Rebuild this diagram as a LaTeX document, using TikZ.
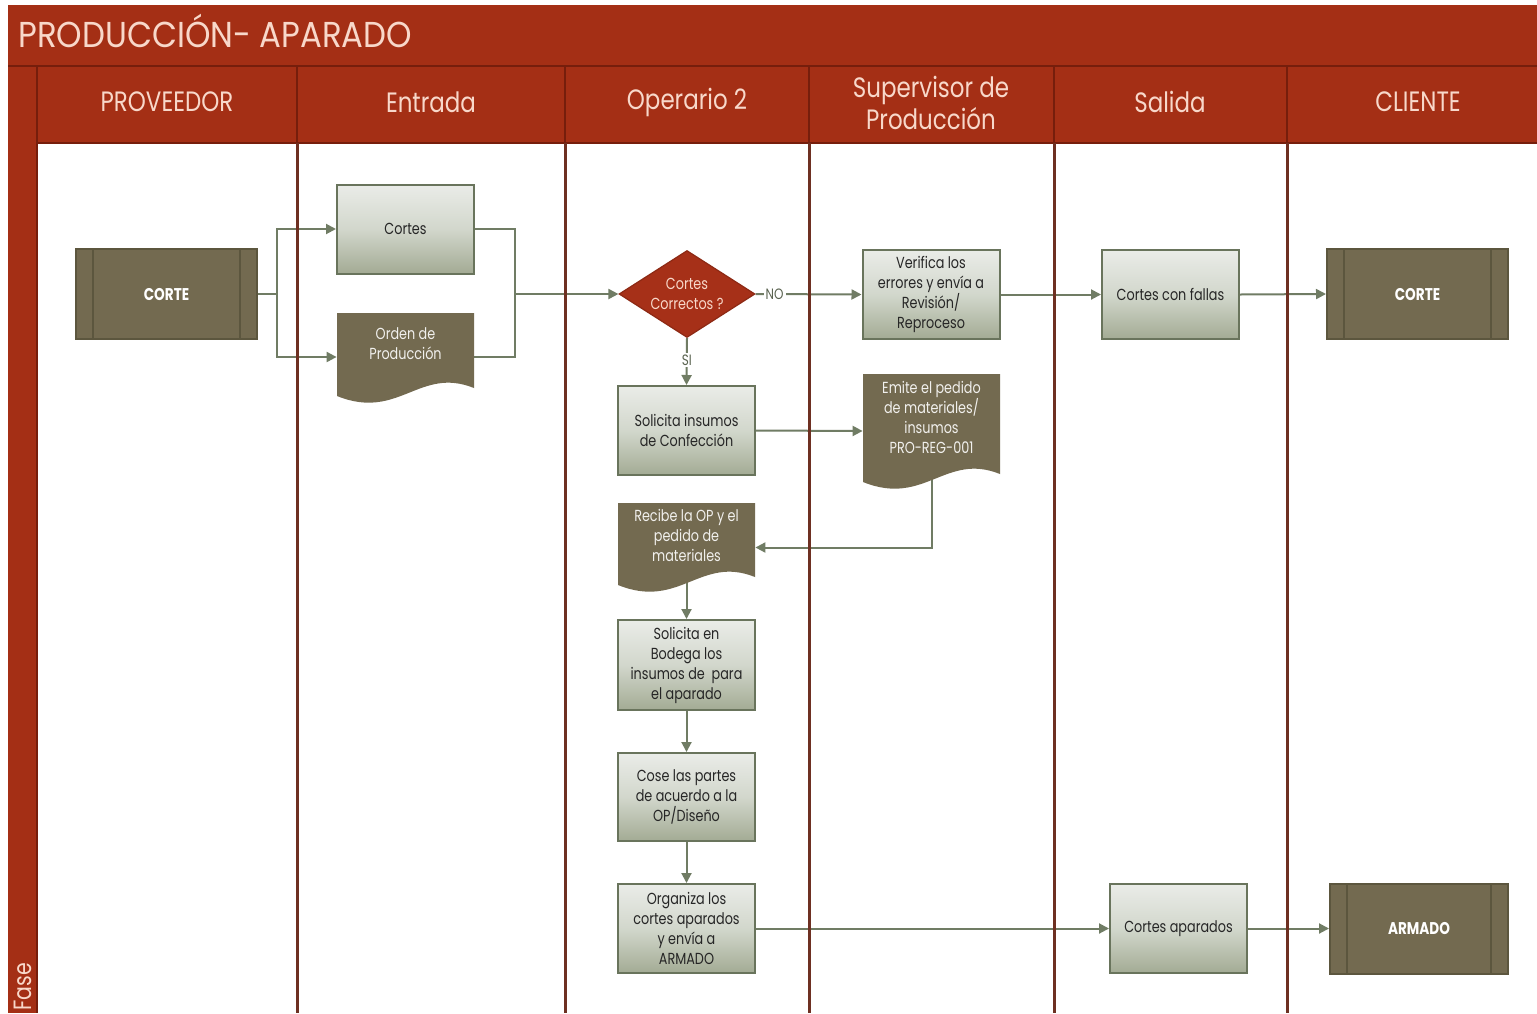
\documentclass[tikz,border=0pt]{standalone}
\usepackage{fontspec}
\setmainfont[FakeStretch=0.82]{Poppins}
\newfontfamily\boxfont[FakeStretch=0.80]{Poppins}
\newfontfamily\titlefont[FakeStretch=0.90]{Poppins}
\usetikzlibrary{arrows.meta,shapes.geometric}

\definecolor{barred}{RGB}{164,47,21}
\definecolor{barline}{RGB}{118,30,12}
\definecolor{laneline}{RGB}{110,48,34}
\definecolor{headtxt}{RGB}{248,216,202}
\definecolor{docfill}{RGB}{115,106,80}
\definecolor{docedge}{RGB}{92,86,62}
\definecolor{boxtop}{RGB}{234,236,232}
\definecolor{boxmid}{RGB}{210,215,204}
\definecolor{boxbot}{RGB}{163,171,148}
\definecolor{boxedge}{RGB}{105,116,92}
\definecolor{wire}{RGB}{112,124,100}
\definecolor{decfill}{RGB}{166,48,24}

\pgfdeclarelayer{back}
\pgfdeclarelayer{wires}
\pgfdeclarelayer{lanes}
\pgfsetlayers{back,wires,lanes,main}

% document symbol: flat top, wavy bottom edge
\newcommand\docwave[4]{%
  \fill[docfill] (#1,#3) -- (#2,#3) -- (#2,#4-8)
    .. controls ({#2-0.4*(#2-#1)},#4-30) and ({#1+0.45*(#2-#1)},#4+25) .. (#1,#4) -- cycle;}

\tikzset{
  proc/.style={rectangle, draw=boxedge, line width=1pt,
    top color=boxtop, bottom color=boxbot, middle color=boxmid,
    minimum width=68.5pt, minimum height=44.5pt, inner sep=1pt,
    align=center, font=\boxfont\fontsize{8}{10}\selectfont, text=black!85},
  predef/.style={rectangle, draw=docedge, fill=docfill, line width=1pt,
    minimum width=90.5pt, minimum height=45pt, text=white,
    font=\boxfont\bfseries\fontsize{8.5}{10}\selectfont,
    path picture={
      \draw[docedge, line width=1pt]
        ([xshift=8.5pt]path picture bounding box.north west) --
        ([xshift=8.5pt]path picture bounding box.south west)
        ([xshift=-8.5pt]path picture bounding box.north east) --
        ([xshift=-8.5pt]path picture bounding box.south east);}},
  docnode/.style={rectangle, minimum width=68.5pt, inner sep=0pt},
  doctext/.style={text=white!90!docfill, align=center,
    font=\boxfont\fontsize{8}{10}\selectfont},
  decision/.style={diamond, fill=decfill, draw=decfill!85!black, line width=0.6pt,
    minimum width=68pt, minimum height=43.5pt, aspect=1.56, inner sep=0pt,
    text=headtxt, align=center, font=\boxfont\fontsize{8}{10}\selectfont},
  flow/.style={draw=wire, line width=1pt, -{Triangle[length=5pt,width=5pt]}},
  link/.style={draw=wire, line width=1pt},
  lbl/.style={fill=white, inner sep=1pt, text=wire!80!black,
    font=\boxfont\fontsize{7.5}{9}\selectfont},
  headlbl/.style={text=headtxt, align=center, font=\fontsize{14}{14.5}\selectfont},
  lanerule/.style={draw=laneline, line width=1.5pt},
  headrule/.style={draw=barline, line width=1pt},
}

\begin{document}
\begin{tikzpicture}[x=0.5pt,y=-0.5pt]
\useasboundingbox (0,0) rectangle (1537,1013);

% ---- frame: title bar, header row, phase strip, body
\begin{pgfonlayer}{back}
  \fill[white] (0,0) rectangle (1537,1013);
  \fill[barred] (8,5) rectangle (1537,143);
  \fill[barred] (8,66) rectangle (37,1013);
  \draw[headrule] (8,66) -- (1537,66);
  \draw[headrule] (37,143) -- (1537,143);
  \draw[headrule] (37,66) -- (37,1013);
\end{pgfonlayer}

\node[anchor=base west, text=headtxt, inner sep=0pt,
  font=\titlefont\fontsize{18}{18}\selectfont] (title) at (18,47) {PRODUCCIÓN- APARADO};

\node[headlbl] (hprov) at (167,102) {PROVEEDOR};
\node[headlbl] (hent)  at (431,102) {Entrada};
\node[headlbl] (hop)   at (687,102) {Operario 2};
\node[headlbl] (hsup)  at (931,103) {Supervisor de\\Producción};
\node[headlbl] (hsal)  at (1170,102) {Salida};
\node[headlbl] (hcli)  at (1418,102) {CLIENTE};

\node[rotate=90, anchor=west, inner sep=1pt, text=headtxt,
  font=\fontsize{12.5}{13}\selectfont] (fase) at (23,1013) {Fase};

% ---- lane dividers
\begin{pgfonlayer}{lanes}
  \foreach \lx in {297,565,809,1054,1287}{
    \draw[headrule] (\lx,66) -- (\lx,143);
    \draw[lanerule] (\lx,143) -- (\lx,1013);
  }
\end{pgfonlayer}

% ---- process steps
\node[predef] (corteL) at (166.5,294) {CORTE};
\node[proc] (cortes) at (405.5,229) {Cortes};

\docwave{337}{474}{313}{396}
\node[docnode, minimum height=44pt] (orden) at (405.5,357) {};
\node[doctext] (ordentxt) at (405.5,344) {Orden de\\Producción};

\node[decision] (dec) at (687,294) {Cortes\\Correctos ?};

\node[proc] (verif) at (931,294.5) {Verifica los\\errores y envía a\\Revisión/\\Reproceso};
\node[proc] (fallas) at (1170.5,294.5) {Cortes con fallas};
\node[predef] (corteR) at (1417.5,294) {CORTE};

\node[proc] (solins) at (686.5,430.5) {Solicita insumos\\de Confección};

\docwave{863}{1000}{374}{482}
\node[docnode, minimum height=45pt] (emite) at (931.5,431) {};
\node[doctext] (emitetxt) at (931.5,417) {Emite el pedido\\de materiales/\\insumos\\PRO-REG-001};

\docwave{618}{755}{503}{585}
\node[docnode, minimum height=33pt] (recibe) at (686.5,547.5) {};
\node[doctext] (recibetxt) at (686.5,535) {Recibe la OP y el\\pedido de\\materiales};

\node[proc, minimum height=45pt] (bodega) at (686.5,665) {Solicita en\\Bodega los\\insumos de \ para\\el aparado};
\node[proc, minimum height=44pt] (cose) at (686.5,797) {Cose las partes\\de acuerdo a la\\OP/Diseño};
\node[proc] (organiza) at (686.5,928.5) {Organiza los\\cortes aparados\\y envía a\\ARMADO};
\node[proc] (aparados) at (1178.5,928.5) {Cortes aparados};
\node[predef, minimum width=89pt] (armado) at (1419,928.5) {ARMADO};

% ---- connectors
\begin{pgfonlayer}{wires}
  \coordinate (split) at (277,294);
  \coordinate (merge) at (515,294);
  \draw[link] (corteL.east) -- (split);
  \draw[flow] (split) |- (cortes.west);
  \draw[flow] (split) |- (orden.west);
  \draw[link] (cortes.east) -| (merge);
  \draw[link] (orden.east) -| (merge);
  \draw[flow] (merge) -- (dec.west);
  \draw[flow] (dec.east) -- node[lbl, pos=0.18] {NO} (verif.west);
  \draw[flow] (verif.east) -- (fallas.west);
  \draw[flow] (fallas.east) -- (corteR.west);
  \draw[flow] (dec.south) -- node[lbl, pos=0.47] {SI} (solins.north);
  \draw[flow] (solins.east) -- (emite.west);
  \draw[flow] (emite.south) |- (recibe.east);
  \draw[flow] (recibe.south) -- (bodega.north);
  \draw[flow] (bodega.south) -- (cose.north);
  \draw[flow] (cose.south) -- (organiza.north);
  \draw[flow] (organiza.east) -- (aparados.west);
  \draw[flow] (aparados.east) -- (armado.west);
\end{pgfonlayer}
\end{tikzpicture}
\end{document}
